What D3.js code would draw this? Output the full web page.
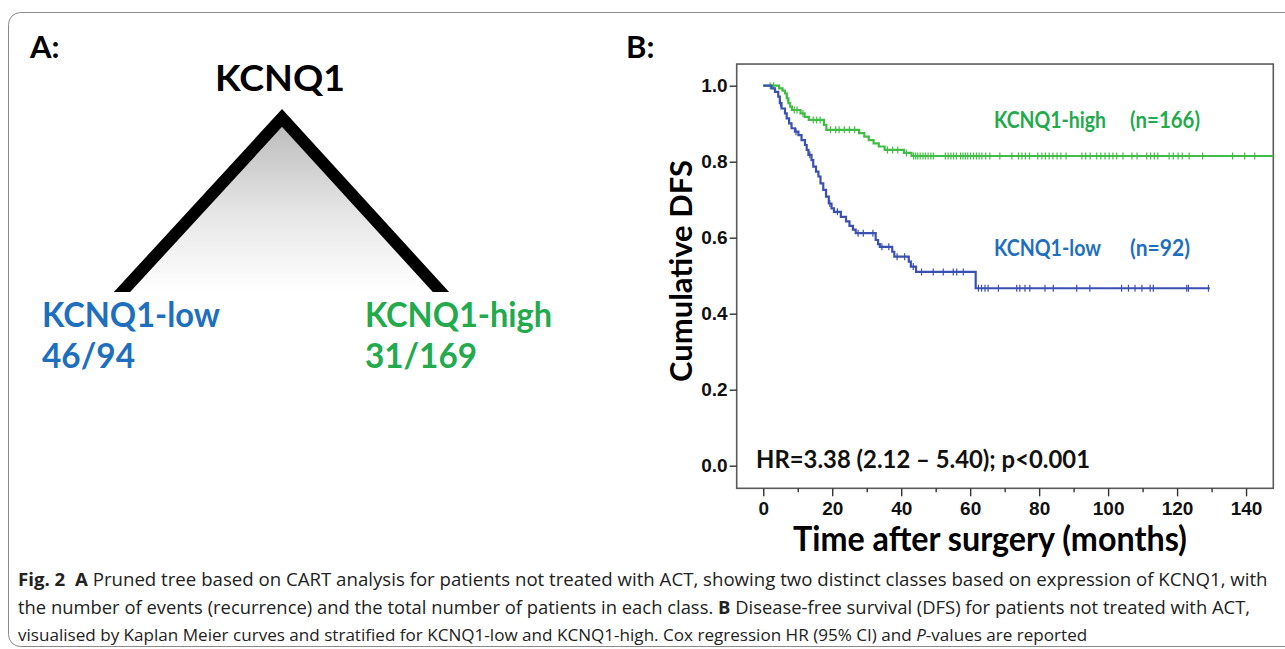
<!DOCTYPE html>
<html><head><meta charset="utf-8">
<script src="https://cdn.jsdelivr.net/npm/d3@7"></script>
<style>body{margin:0;background:#fff;} svg{display:block;}</style>
</head><body><svg id="c" width="1285" height="649"></svg>
<script>
// ---------- data ----------
const xTicks = [0, 20, 40, 60, 80, 100, 120, 140];
const xMinorTicks = [10, 30, 50, 70, 90, 110, 130];
const yTicks = [0.0, 0.2, 0.4, 0.6, 0.8, 1.0];

// KCNQ1-high (green) Kaplan-Meier steps
const highTimes = [0, 4.6, 5.6, 6.3, 6.8, 7.3, 7.8, 8.3, 10.8, 12.0, 13.2, 17.6, 18.3, 27.8, 29.3, 30.6, 32.0, 33.5, 35.2, 40.8, 43.0];
const highSurv  = [1.0, 0.993, 0.987, 0.980, 0.967, 0.954, 0.945, 0.936, 0.927, 0.918, 0.910, 0.897, 0.884, 0.875, 0.866, 0.857, 0.848, 0.840, 0.831, 0.823, 0.815];
const highCensor = [2.0, 3.0, 7.0, 9.0, 9.8, 11.5, 14.5, 15.5, 16.5, 19.5, 21.0, 22.0, 23.5, 25.0, 26.5, 36.0, 37.5, 39.0, 41.5,
  43.6, 44.2, 44.8, 45.5, 46.3, 47.0, 47.8, 48.6, 49.3, 52.8, 53.6, 54.4, 55.2, 56.0, 57.2, 57.9, 58.6, 59.3, 60.1, 61.0, 61.8,
  62.6, 63.4, 64.5, 65.7, 68.6, 72.1, 74.0, 75.0, 76.0, 77.2, 79.6, 80.8, 81.8, 82.9, 84.0, 85.2, 86.3, 87.8, 92.4, 93.5, 94.8,
  96.7, 97.9, 99.1, 100.3, 101.4, 102.5, 104.3, 106.9, 108.4, 111.2, 112.3, 113.4, 114.4, 117.7, 118.9, 120.3, 121.5, 123.5,
  127.4, 136.1, 139.6, 142.5];
const highEnd = 150;

// KCNQ1-low (blue) Kaplan-Meier steps
const lowTimes = [0, 2.4, 3.4, 4.35, 4.8, 5.3, 6.3, 6.8, 7.5, 8.2, 9.2, 10.2, 11.1, 12.1, 12.6, 13.1, 14.0, 14.5, 15.3, 16.0, 16.6, 17.4, 18.2, 19.0, 19.8, 20.5, 22.5, 24.0, 25.0, 26.0, 26.8, 32.6, 33.3, 33.8, 37.4, 38.0, 42.2, 42.8, 44.3, 61.6];
const lowSurv  = [1.0, 0.993, 0.984, 0.971, 0.954, 0.940, 0.927, 0.914, 0.901, 0.888, 0.879, 0.870, 0.857, 0.844, 0.831, 0.818, 0.804, 0.787, 0.774, 0.761, 0.743, 0.726, 0.708, 0.690, 0.677, 0.668, 0.655, 0.643, 0.631, 0.621, 0.612, 0.594, 0.583, 0.576, 0.563, 0.550, 0.537, 0.524, 0.510, 0.467];
const lowCensor = [5.0, 9.5, 13.5, 19.3, 21.5, 27.5, 29.0, 31.8, 34.4, 36.4, 38.8, 41.0, 43.5,
  45.9, 49.3, 52.2, 55.1, 56.1, 58.0,
  62.4, 63.3, 64.3, 65.2, 68.2, 73.5, 74.4, 75.9, 77.3, 81.7, 84.1, 90.9, 94.7, 103.9, 105.9, 107.8, 109.8, 112.2, 113.1, 122.8, 123.3, 129.1];
const lowEnd = 129.5;

const groupLabels = ["KCNQ1-high", "KCNQ1-low"];
const groupN = ["(n=166)", "(n=92)"];
const treeRoot = "KCNQ1";
const treeLeaves = ["KCNQ1-low", "KCNQ1-high"];
const treeCounts = ["46/94", "31/169"];
const hrText = "HR=3.38 (2.12 \u2013 5.40); p<0.001";

// ---------- styles ----------
const BLUE_TXT = "#1f6fbf", GREEN_TXT = "#22aa4d";
const BLUE_LN = "#3a50b2", GREEN_LN = "#41bd45";
const CAL = "Lato, 'Open Sans', sans-serif";

const svg = d3.select("#c");

// outer rounded frame
svg.append("rect").attr("x", 8.5).attr("y", 12.5).attr("width", 1300).attr("height", 634)
  .attr("rx", 12).attr("fill", "none").attr("stroke", "#8a8a8a").attr("stroke-width", 1);

// ---------- Panel A ----------
svg.append("text").attr("x", 30).attr("y", 58).text("A:")
  .attr("font-family", CAL).attr("font-weight", 700).attr("font-size", 31).attr("fill", "#000");

const defs = svg.append("defs");
const grad = defs.append("linearGradient").attr("id", "tg").attr("x1", 0).attr("y1", 0).attr("x2", 0).attr("y2", 1);
grad.append("stop").attr("offset", "0%").attr("stop-color", "#b9b9b9");
grad.append("stop").attr("offset", "55%").attr("stop-color", "#e6e6e6");
grad.append("stop").attr("offset", "100%").attr("stop-color", "#ffffff");
defs.append("clipPath").attr("id", "treeclip").append("rect").attr("x", 0).attr("y", 0).attr("width", 640).attr("height", 292);

const apex = [282, 118], leftFoot = [122, 292], rightFoot = [441, 292];
svg.append("path").attr("d", `M${apex}L${leftFoot}L${rightFoot}Z`).attr("fill", "url(#tg)");
const ext = (a, b, k) => [b[0] + (b[0] - a[0]) * k, b[1] + (b[1] - a[1]) * k];
svg.append("path").attr("clip-path", "url(#treeclip)")
  .attr("d", `M${ext(apex, leftFoot, 0.08)}L${apex}L${ext(apex, rightFoot, 0.08)}`)
  .attr("fill", "none").attr("stroke", "#000").attr("stroke-width", 12).attr("stroke-linejoin", "miter");

svg.append("text").attr("x", 280).attr("y", 91).attr("text-anchor", "middle").text(treeRoot)
  .attr("font-family", CAL).attr("font-weight", 700).attr("font-size", 37).attr("fill", "#000")
  .attr("textLength", 130).attr("lengthAdjust", "spacingAndGlyphs");

const leafX = [42, 365], leafCol = [BLUE_TXT, GREEN_TXT];
treeLeaves.forEach((t, i) => {
  svg.append("text").attr("x", leafX[i]).attr("y", 327).text(t)
    .attr("font-family", CAL).attr("font-weight", 700).attr("font-size", 34).attr("fill", leafCol[i])
    .attr("textLength", i === 0 ? 178 : 187).attr("lengthAdjust", "spacingAndGlyphs");
  svg.append("text").attr("x", leafX[i]).attr("y", 368).text(treeCounts[i])
    .attr("font-family", CAL).attr("font-weight", 700).attr("font-size", 34).attr("fill", leafCol[i])
    .attr("textLength", i === 0 ? 93 : 112).attr("lengthAdjust", "spacingAndGlyphs");
});

// ---------- Panel B ----------
svg.append("text").attr("x", 626).attr("y", 58).text("B:")
  .attr("font-family", CAL).attr("font-weight", 700).attr("font-size", 31).attr("fill", "#000");

const x = d3.scaleLinear().domain([-7.7, 147.9]).range([736.7, 1273.3]);
const y = d3.scaleLinear().domain([0, 1]).range([465.7, 85.7]);
const yTop = 1.057, yBot = -0.0595;

defs.append("clipPath").attr("id", "plotclip").append("rect")
  .attr("x", x(-7.7)).attr("y", y(yTop)).attr("width", x(147.9) - x(-7.7)).attr("height", y(yBot) - y(yTop));

// frame
svg.append("rect").attr("x", x(-7.7)).attr("y", y(yTop)).attr("width", x(147.9) - x(-7.7)).attr("height", y(yBot) - y(yTop))
  .attr("fill", "none").attr("stroke", "#5a5a5a").attr("stroke-width", 1.6);

// y axis
const gy = svg.append("g").attr("transform", `translate(${x(-7.7)},0)`)
  .call(d3.axisLeft(y).tickValues(yTicks).tickFormat(d3.format(".1f")).tickSize(7).tickPadding(2));
gy.select(".domain").remove();
gy.selectAll("line").attr("stroke", "#333").attr("stroke-width", 1.4);
gy.selectAll("text").attr("font-family", "'Liberation Sans', Arial, sans-serif").attr("font-weight", 700)
  .attr("font-size", 19).attr("fill", "#111");

// x axis
const gx = svg.append("g").attr("transform", `translate(0,${y(yBot)})`)
  .call(d3.axisBottom(x).tickValues(xTicks).tickFormat(d3.format("d")).tickSize(8).tickPadding(5));
gx.select(".domain").remove();
gx.selectAll("line").attr("stroke", "#333").attr("stroke-width", 1.4);
gx.selectAll("text").attr("font-family", "'Liberation Sans', Arial, sans-serif").attr("font-weight", 700)
  .attr("font-size", 19).attr("fill", "#111");
const gxm = svg.append("g").attr("transform", `translate(0,${y(yBot)})`)
  .call(d3.axisBottom(x).tickValues(xMinorTicks).tickFormat("").tickSize(4));
gxm.select(".domain").remove();
gxm.selectAll("line").attr("stroke", "#333").attr("stroke-width", 1.4);

// axis titles
svg.append("text").attr("transform", `translate(692,271) rotate(-90)`).attr("text-anchor", "middle")
  .text("Cumulative DFS").attr("font-family", CAL).attr("font-weight", 700).attr("font-size", 31)
  .attr("textLength", 222).attr("lengthAdjust", "spacingAndGlyphs").attr("fill", "#000");
svg.append("text").attr("x", 990).attr("y", 551).attr("text-anchor", "middle")
  .text("Time after surgery (months)").attr("font-family", CAL).attr("font-weight", 700).attr("font-size", 34)
  .attr("textLength", 394).attr("lengthAdjust", "spacingAndGlyphs").attr("fill", "#000");

// curves
const line = d3.line().x(d => x(d[0])).y(d => y(d[1])).curve(d3.curveStepAfter);
const survAt = (times, surv, t) => surv[d3.bisectRight(times, t) - 1];
const series = [
  { times: highTimes, surv: highSurv, censor: highCensor, end: highEnd, color: GREEN_LN },
  { times: lowTimes, surv: lowSurv, censor: lowCensor, end: lowEnd, color: BLUE_LN }
];
const gc = svg.append("g").attr("clip-path", "url(#plotclip)");
series.forEach(s => {
  const pts = s.times.map((t, i) => [t, s.surv[i]]);
  pts.push([s.end, s.surv[s.surv.length - 1]]);
  gc.append("path").attr("d", line(pts)).attr("fill", "none").attr("stroke", s.color).attr("stroke-width", 2.2);
  gc.selectAll(null).data(s.censor).enter().append("line")
    .attr("x1", d => x(d)).attr("x2", d => x(d))
    .attr("y1", d => y(survAt(s.times, s.surv, d)) - 3.5).attr("y2", d => y(survAt(s.times, s.surv, d)) + 3.5)
    .attr("stroke", s.color).attr("stroke-width", 1.2);
});

// group labels
const labY = [128, 256], labCol = [GREEN_TXT, BLUE_TXT], labW = [112, 107], nW = [70, 60];
groupLabels.forEach((t, i) => {
  svg.append("text").attr("x", 994).attr("y", labY[i]).text(t)
    .attr("font-family", CAL).attr("font-weight", 700).attr("font-size", 22).attr("fill", labCol[i])
    .attr("textLength", labW[i]).attr("lengthAdjust", "spacingAndGlyphs");
  svg.append("text").attr("x", 1130).attr("y", labY[i]).text(groupN[i])
    .attr("font-family", CAL).attr("font-weight", 700).attr("font-size", 22).attr("fill", labCol[i])
    .attr("textLength", nW[i]).attr("lengthAdjust", "spacingAndGlyphs");
});

svg.append("text").attr("x", 756).attr("y", 468).text(hrText)
  .attr("font-family", CAL).attr("font-weight", 700).attr("font-size", 24).attr("fill", "#111")
  .attr("textLength", 334).attr("lengthAdjust", "spacingAndGlyphs");

// ---------- caption: natural layout, font size fitted per line ----------
const capFont = "'Open Sans', sans-serif";
const capLines = [
  { y: 586, w: 1250, parts: [["Fig. 2", "b"], ["  ", ""], ["A", "b"], [" Pruned tree based on CART analysis for patients not treated with ACT, showing two distinct classes based on expression of KCNQ1, with", ""]] },
  { y: 614, w: 1233, parts: [["the number of events (recurrence) and the total number of patients in each class. ", ""], ["B", "b"], [" Disease-free survival (DFS) for patients not treated with ACT,", ""]] },
  { y: 641, w: 1069, parts: [["visualised by Kaplan Meier curves and stratified for KCNQ1-low and KCNQ1-high. Cox regression HR (95% CI) and ", ""], ["P", "i"], ["-values are reported", ""]] }
];
capLines.forEach(l => {
  const t = svg.append("text").attr("x", 18).attr("y", l.y).attr("font-family", capFont).attr("font-size", 18)
    .attr("fill", "#222").attr("xml:space", "preserve");
  l.parts.forEach(p => {
    const ts = t.append("tspan").text(p[0]);
    if (p[1] === "b") ts.attr("font-weight", 700);
    if (p[1] === "i") ts.attr("font-style", "italic");
  });
  const nat = t.node().getComputedTextLength();
  t.attr("font-size", (18 * l.w / nat).toFixed(2));
});
</script></body></html>
